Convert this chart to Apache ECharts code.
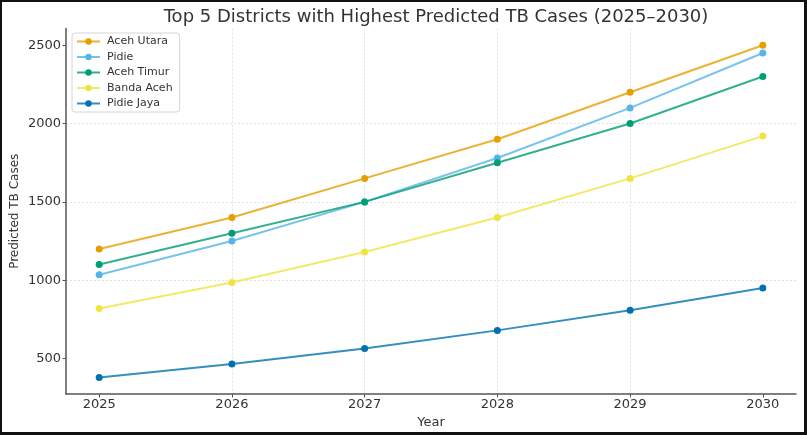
<!DOCTYPE html>
<html>
<head>
<meta charset="utf-8">
<script src="https://cdn.jsdelivr.net/npm/echarts@6/dist/echarts.min.js"></script>
<style>
  html, body { margin: 0; padding: 0; background: #fff; }
  #chart { position: absolute; left: 0; top: 0; width: 807px; height: 435px; }
  #frame { position: absolute; left: 0; top: 0; width: 807px; height: 435px; box-sizing: border-box;
           border-style: solid; border-color: #111; border-width: 2px 3px 3px 2px; pointer-events: none; }
</style>
</head>
<body>
<div id="chart"></div>
<div id="frame"></div>
<script>
const years = [2025, 2026, 2027, 2028, 2029, 2030];
const yTicks = [500, 1000, 1500, 2000, 2500];
const seriesNames = ['Aceh Utara', 'Pidie', 'Aceh Timur', 'Banda Aceh', 'Pidie Jaya'];
const acehUtara = [1200, 1400, 1650, 1900, 2200, 2500];
const pidie = [1035, 1250, 1500, 1780, 2100, 2450];
const acehTimur = [1100, 1300, 1500, 1750, 2000, 2300];
const bandaAceh = [820, 985, 1180, 1400, 1650, 1920];
const pidieJaya = [380, 465, 565, 680, 808, 950];
const seriesValues = [acehUtara, pidie, acehTimur, bandaAceh, pidieJaya];
const colors = ['#E69F00', '#56B4E9', '#009E73', '#F0E442', '#0072B2'];

const FONT = 'DejaVu Sans';
const chart = echarts.init(document.getElementById('chart'), null, { renderer: 'canvas' });

const series = seriesNames.map((name, i) => ({
  name: name,
  type: 'line',
  data: years.map((y, j) => [y, seriesValues[i][j]]),
  symbol: 'circle',
  symbolSize: 7,
  color: colors[i],
  lineStyle: { width: 2, color: colors[i], opacity: 0.8 },
  itemStyle: { color: colors[i] },
  emphasis: { disabled: true },
  animation: false
}));

chart.setOption({
  animation: false,
  backgroundColor: '#fff',
  textStyle: { fontFamily: FONT },
  title: {
    text: 'Top 5 Districts with Highest Predicted TB Cases (2025–2030)',
    left: 431, textAlign: 'center', top: 3,
    textStyle: { fontFamily: FONT, fontSize: 18, fontWeight: 'normal', color: '#333' }
  },
  legend: {
    orient: 'vertical',
    left: 72, top: 33,
    padding: [3, 7, 3, 4],
    itemWidth: 23, itemHeight: 8, itemGap: 4.5,
    backgroundColor: 'rgba(255,255,255,0.85)',
    borderColor: '#d6d6d6', borderWidth: 1, borderRadius: 3,
    textStyle: { fontFamily: FONT, fontSize: 11, color: '#333', padding: [0, 0, 0, 2] },
    data: seriesNames
  },
  grid: { left: 66, top: 28.6, width: 730, height: 365.4, containLabel: false, outerBoundsMode: 'none' },
  xAxis: {
    type: 'value',
    min: 2024.75, max: 2030.25,
    splitNumber: 5,
    name: 'Year', nameLocation: 'middle', nameGap: 17,
    nameTextStyle: { fontFamily: FONT, fontSize: 13, color: '#333' },
    axisLine: { show: true, lineStyle: { color: '#555', width: 1.5 } },
    axisTick: { show: true, length: 3.5, lineStyle: { color: '#555', width: 1 }, customValues: years },
    axisLabel: { fontFamily: FONT, fontSize: 13, color: '#333', margin: 4, customValues: years,
                 formatter: v => String(v) },
    splitLine: { show: true, showMinLine: false, showMaxLine: false,
                 lineStyle: { color: '#e2e2e2', type: [2, 2], width: 1 } }
  },
  yAxis: {
    type: 'value',
    min: 274, max: 2606,
    splitNumber: 5,
    name: 'Predicted TB Cases', nameLocation: 'middle', nameGap: 45, nameRotate: 90,
    nameMoveOverlap: false,
    nameTextStyle: { fontFamily: FONT, fontSize: 12, color: '#333' },
    axisLine: { show: true, lineStyle: { color: '#555', width: 1.5 } },
    axisTick: { show: true, length: 3.5, lineStyle: { color: '#555', width: 1 }, customValues: yTicks },
    axisLabel: { fontFamily: FONT, fontSize: 13, color: '#333', margin: 5, customValues: yTicks,
                 formatter: v => String(v) },
    splitLine: { show: true, showMinLine: false, showMaxLine: false,
                 lineStyle: { color: '#e2e2e2', type: [2, 2], width: 1 } }
  },
  series: series
});
</script>
</body>
</html>
